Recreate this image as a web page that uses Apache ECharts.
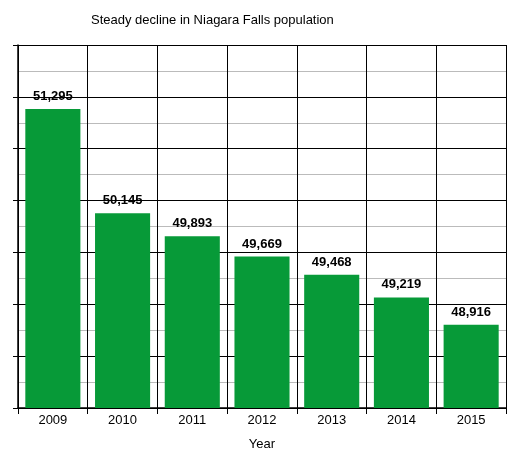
<!DOCTYPE html>
<html><head><meta charset="utf-8">
<script src="https://cdn.jsdelivr.net/npm/echarts@6/dist/echarts.min.js"></script>
<style>html,body{margin:0;padding:0;background:#fff}#c{width:513px;height:456px}</style>
</head><body><div id="c"></div>
<script>
const categories = ['2009','2010','2011','2012','2013','2014','2015'];
const population = [51295, 50145, 49893, 49669, 49468, 49219, 48916];
const yMin = 48000, yMax = 52000;
const chart = echarts.init(document.getElementById('c'));
chart.setOption({
  animation: false,
  title: { text: 'Steady decline in Niagara Falls population', left: 86, top: 9,
    textStyle: { fontFamily: 'Liberation Sans, Arial', fontSize: 13, fontWeight: 'normal', color: '#000' } },
  grid: { left: 18, right: 7, top: 45, bottom: 46 },
  xAxis: { type: 'category', data: categories, name: 'Year', nameLocation: 'middle', nameGap: 30,
    nameTextStyle: { fontFamily: 'Liberation Sans, Arial', fontSize: 13, color: '#000' },
    axisLine: { lineStyle: { color: '#000', width: 1.5 } },
    axisTick: { show: true, length: 6, lineStyle: { color: '#000' } },
    axisLabel: { fontFamily: 'Liberation Sans, Arial', fontSize: 13, color: '#000', margin: 6 },
    splitLine: { show: true, lineStyle: { color: '#000', width: 1 } } },
  yAxis: { type: 'value', min: yMin, max: yMax, interval: (yMax - yMin) / 7,
    axisLabel: { show: false },
    axisLine: { show: true, lineStyle: { color: '#000', width: 1.5 } },
    axisTick: { show: true, length: 5, lineStyle: { color: '#000' } },
    splitLine: { lineStyle: { color: '#000', width: 1 } },
    minorTick: { show: false, splitNumber: 2 },
    minorSplitLine: { show: true, lineStyle: { color: '#bbb', width: 1 } } },
  series: [{ type: 'bar', data: population, barCategoryGap: '21%',
    itemStyle: { color: '#079a38' },
    label: { show: true, position: 'top', distance: 6, color: '#000', fontWeight: 'bold',
      fontFamily: 'Liberation Sans, Arial', fontSize: 13,
      formatter: p => p.value.toLocaleString('en-US') } }]
});
</script></body></html>
